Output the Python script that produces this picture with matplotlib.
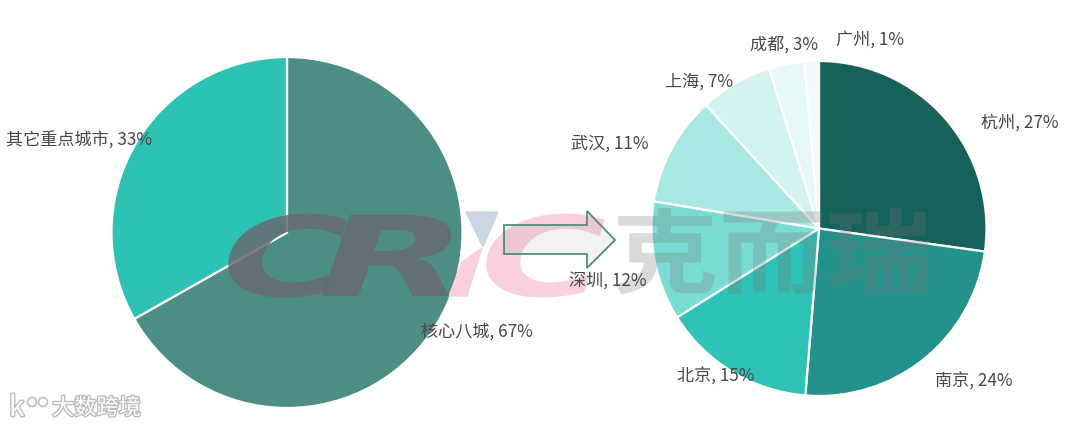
# -*- coding: utf-8 -*-
import matplotlib
matplotlib.use('Agg')
import matplotlib.pyplot as plt
import matplotlib.patheffects as pe
from matplotlib.patches import Polygon, Circle
from matplotlib.transforms import Affine2D

plt.rcParams['font.family'] = ['Noto Sans CJK SC', 'DejaVu Sans']

# left pie
left_names = ['核心八城', '其它重点城市']
left_values = [66.8, 33.2]
left_colors = ['#4D8E84', '#2EC2B5']
# right pie, labels in the picture are rounded
right_names = ['杭州', '南京', '北京', '深圳', '武汉', '上海', '成都', '广州']
right_values = [27.2, 24.1, 14.8, 11.5, 10.6, 7.0, 3.4, 1.4]
right_colors = ['#17615B', '#24918A', '#2FC2B6', '#79DDD3', '#A8E8E2', '#D2F3F0', '#E6F8F7', '#F0FBFA']

H = 428
fig = plt.figure(figsize=(10.8, 4.28), dpi=100)
ax = fig.add_axes([0, 0, 1, 1])


class Stretch(pe.AbstractPathEffect):
    # the logo letters are wider than any installed font, so widen the text about x0
    def __init__(self, x0, sx):
        super().__init__()
        self.x0 = x0
        self.sx = sx

    def draw_path(self, renderer, gc, tpath, affine, rgbFace=None):
        a = affine + Affine2D().translate(-self.x0, 0).scale(self.sx, 1).translate(self.x0, 0)
        renderer.draw_path(gc, tpath, a, rgbFace)


def draw_pie(values, colors, cx, cy, r):
    ax.pie(values, colors=colors, center=(cx, H - cy), radius=r, startangle=90, counterclock=False,
           frame=True, wedgeprops={'edgecolor': 'white', 'linewidth': 1.6})


draw_pie(left_values, left_colors, 287, 232.5, 175.5)
draw_pie(right_values, right_colors, 819, 228.5, 167.5)
ax.set_xlim(0, 1080)
ax.set_ylim(0, H)
ax.axis('off')

# labels, pixel position of the left end
left_pos = [(421, 332), (6, 141)]
right_pos = [(981, 123), (935, 381), (677, 376), (569, 282), (571, 144), (665, 82), (750, 45), (836, 40)]
for names, values, pos in [(left_names, left_values, left_pos), (right_names, right_values, right_pos)]:
    for n, v, p in zip(names, values, pos):
        ax.text(p[0], H - p[1], '%s, %.0f%%' % (n, v), fontsize=12.3, color='#484848', ha='left', va='center', zorder=6)


def logo_letter(s, x, sx, color, alpha, z):
    ax.text(x, H - 296, s, fontsize=80, fontweight='bold', style='italic', family='DejaVu Sans',
            color=color, alpha=alpha, va='baseline', ha='left', zorder=z, path_effects=[Stretch(x, sx)])


# CRIC watermark
logo_letter('C', 222, 1.55, '#666a70', 0.85, 4)
logo_letter('R', 318, 1.75, '#666a70', 0.85, 4)
ax.add_patch(Polygon([(466, H - 212), (498, H - 212), (483, H - 247)], color='#CBD5E3', zorder=3))
ax.add_patch(Polygon([(482, H - 248), (467, H - 296), (449, H - 296), (462, H - 262)], color='#F9D0DB', zorder=3))
logo_letter('C', 480, 1.55, '#F9D0DB', 1, 3)
ax.text(772, H - 259, '克而瑞', fontsize=66, fontweight='bold', color='#777777', alpha=0.27,
        ha='center', va='center', zorder=4, path_effects=[Stretch(772, 1.17)])

# arrow
arrow_xy = [(504, 225), (587, 225), (587, 211), (615, 240), (587, 268), (587, 254), (504, 254)]
ax.add_patch(Polygon([(x, H - y) for x, y in arrow_xy], closed=True, facecolor=(0.5, 0.5, 0.5, 0.1),
                     edgecolor='#4D8E84', linewidth=1.3, zorder=5))

# corner mark
glow = [pe.withStroke(linewidth=2, foreground='#BDBDBD')]
ax.text(52, H - 408, '大数跨境', fontsize=16, color='white', va='center', ha='left', zorder=7, path_effects=glow)
ax.text(9, H - 408, 'k', fontsize=20, color='white', va='center', ha='left', zorder=7, path_effects=glow)
for cx in (32, 43):
    ax.add_patch(Circle((cx, H - 402), 4.5, facecolor='none', edgecolor='#C4C4C4', linewidth=1.3, zorder=7))

fig.savefig('out.png', dpi=100)
